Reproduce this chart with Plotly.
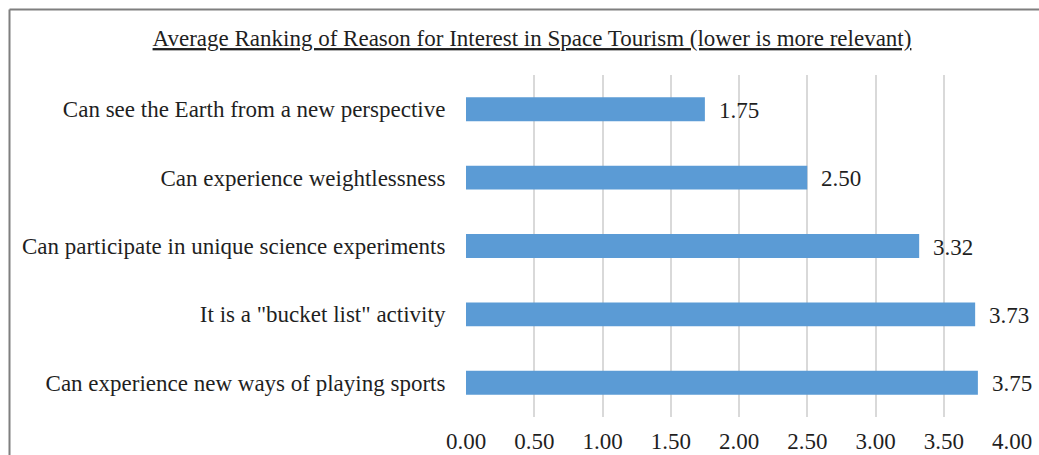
import plotly.graph_objects as go

# Survey results: average rank per reason (lower = more relevant)
reasons = [
    "Can see the Earth from a new perspective",
    "Can experience weightlessness",
    "Can participate in unique science experiments",
    'It is a "bucket list" activity',
    "Can experience new ways of playing sports",
]
avg_rank = [1.75, 2.50, 3.32, 3.73, 3.75]
tick_vals = [0, 0.5, 1.0, 1.5, 2.0, 2.5, 3.0, 3.5, 4.0]
tick_text = ["0.00", "0.50", "1.00", "1.50", "2.00", "2.50", "3.00", "3.50", "4.00"]

W, H = 1039, 455
ML, MR, MT, MB = 466, 27, 75, 38
FONT = "Liberation Serif, Times New Roman, serif"
FS = 23
TXT = "#1f1f1f"

fig = go.Figure(
    go.Bar(
        x=avg_rank,
        y=reasons,
        orientation="h",
        width=0.35,
        marker=dict(color="#5B9BD5", line=dict(width=0)),
        hoverinfo="skip",
    )
)

# value labels to the right of each bar
for r, v in zip(reasons, avg_rank):
    fig.add_annotation(
        x=v, y=r, text=f"{v:.2f}", showarrow=False,
        xanchor="left", xshift=12, yshift=-1,
        font=dict(family=FONT, size=FS, color=TXT),
    )

# frame lines (top and left edge of the chart area)
pw, ph = W - ML - MR, H - MT - MB
fx = (9.5 - ML) / pw
fy_top = (H - MB - 9.5) / ph
fy_bot = (H - MB - H - 5) / ph
fx_right = (W + 5 - ML) / pw
fig.add_shape(type="line", xref="paper", yref="paper", x0=fx, x1=fx_right, y0=fy_top, y1=fy_top,
              line=dict(color="#7f7f7f", width=2))
fig.add_shape(type="line", xref="paper", yref="paper", x0=fx, x1=fx, y0=fy_top, y1=fy_bot,
              line=dict(color="#7f7f7f", width=2))

fig.update_layout(
    width=W, height=H,
    margin=dict(l=ML, r=MR, t=MT, b=MB, pad=0, autoexpand=False),
    paper_bgcolor="white", plot_bgcolor="white",
    showlegend=False,
    title=dict(
        text="<u>Average Ranking of Reason for Interest in Space Tourism (lower is more relevant)</u>",
        x=532 / W, xref="container", xanchor="center",
        y=1 - 38 / H, yref="container", yanchor="middle",
        font=dict(family=FONT, size=FS, color=TXT),
        automargin=False,
    ),
    xaxis=dict(
        range=[0, 4], tickvals=tick_vals, ticktext=tick_text,
        showgrid=True, gridcolor="#D9D9D9", gridwidth=2,
        zeroline=False, showline=False,
        ticks="outside", ticklen=3, tickcolor="rgba(0,0,0,0)",
        tickfont=dict(family=FONT, size=FS, color=TXT),
        automargin=False, fixedrange=True,
    ),
    yaxis=dict(
        categoryorder="array", categoryarray=reasons[::-1],
        showgrid=False, zeroline=False, showline=False,
        ticks="outside", ticklen=15, tickcolor="rgba(0,0,0,0)",
        tickfont=dict(family=FONT, size=FS, color=TXT),
        automargin=False, fixedrange=True,
    ),
)

fig.write_html("out.html")
